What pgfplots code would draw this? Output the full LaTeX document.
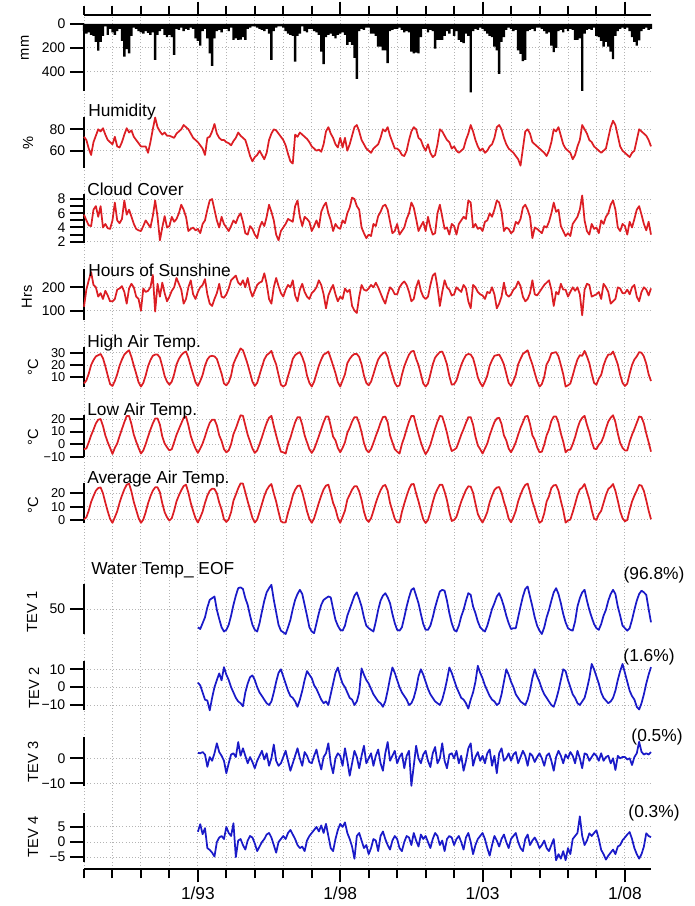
\documentclass[border=0pt]{standalone}
\usepackage{fontspec}
\setmainfont{Liberation Sans}
\usepackage{pgfplots}
\usepackage{pgfplotstable}
\pgfplotsset{compat=1.18}

\definecolor{lred}{RGB}{220,30,36}
\definecolor{lblue}{RGB}{26,26,200}
\definecolor{gridc}{RGB}{180,180,180}
\newcommand\tkf{\fontsize{10.5}{11}\selectfont}
\newcommand\tks{\fontsize{9.6}{10}\selectfont}
\newcommand\ttf{\fontsize{13}{14}\selectfont}
\newcommand\ylf{\fontsize{11}{12}\selectfont}

% monthly series, Jan 1989 - Dec 2008 (one line per year)
\pgfplotstableread[header=false,row sep=\\]{
60\\ 80\\ 70\\ 90\\ 100\\ 150\\ 222\\ 150\\ 100\\ 20\\ 90\\ 40\\
70\\ 90\\ 60\\ 40\\ 140\\ 272\\ 210\\ 245\\ 100\\ 30\\ 40\\ 60\\
70\\ 80\\ 60\\ 75\\ 90\\ 70\\ 300\\ 90\\ 60\\ 40\\ 90\\ 110\\
90\\ 110\\ 258\\ 40\\ 50\\ 30\\ 60\\ 40\\ 50\\ 30\\ 40\\ 120\\
140\\ 180\\ 60\\ 40\\ 120\\ 245\\ 350\\ 120\\ 60\\ 50\\ 70\\ 40\\
40\\ 60\\ 30\\ 133\\ 120\\ 133\\ 130\\ 110\\ 133\\ 40\\ 30\\ 20\\
20\\ 30\\ 40\\ 50\\ 60\\ 40\\ 80\\ 300\\ 60\\ 30\\ 20\\ 20\\
30\\ 60\\ 80\\ 90\\ 100\\ 314\\ 100\\ 80\\ 20\\ 60\\ 70\\ 40\\
40\\ 60\\ 70\\ 90\\ 230\\ 336\\ 110\\ 90\\ 80\\ 100\\ 120\\ 90\\
80\\ 70\\ 90\\ 175\\ 150\\ 175\\ 283\\ 458\\ 60\\ 40\\ 50\\ 30\\
30\\ 80\\ 80\\ 100\\ 190\\ 190\\ 220\\ 220\\ 328\\ 60\\ 50\\ 40\\
40\\ 30\\ 50\\ 70\\ 60\\ 70\\ 230\\ 245\\ 240\\ 245\\ 110\\ 40\\
40\\ 70\\ 50\\ 60\\ 205\\ 133\\ 133\\ 133\\ 100\\ 60\\ 80\\ 40\\
100\\ 60\\ 133\\ 150\\ 160\\ 80\\ 100\\ 572\\ 60\\ 40\\ 50\\ 30\\
40\\ 60\\ 80\\ 100\\ 110\\ 190\\ 220\\ 417\\ 150\\ 110\\ 50\\ 30\\
40\\ 60\\ 50\\ 220\\ 250\\ 310\\ 300\\ 60\\ 50\\ 40\\ 60\\ 30\\
30\\ 40\\ 60\\ 80\\ 70\\ 180\\ 235\\ 200\\ 60\\ 50\\ 70\\ 40\\
60\\ 40\\ 50\\ 133\\ 133\\ 120\\ 558\\ 80\\ 50\\ 40\\ 50\\ 30\\
100\\ 110\\ 140\\ 190\\ 150\\ 190\\ 230\\ 293\\ 100\\ 60\\ 40\\ 30\\
40\\ 30\\ 60\\ 110\\ 150\\ 181\\ 137\\ 60\\ 40\\ 30\\ 50\\ 40\\
}\tabRain

\pgfplotstableread[header=false,row sep=\\]{
73\\ 70\\ 62\\ 56\\ 68\\ 74\\ 80\\ 78\\ 81\\ 75\\ 70\\ 68\\
66\\ 73\\ 64\\ 63\\ 68\\ 75\\ 81\\ 77\\ 79\\ 73\\ 70\\ 67\\
64\\ 64\\ 64\\ 58\\ 68\\ 80\\ 91\\ 82\\ 78\\ 75\\ 77\\ 74\\
74\\ 73\\ 72\\ 76\\ 78\\ 80\\ 84\\ 82\\ 80\\ 76\\ 72\\ 70\\
68\\ 65\\ 62\\ 56\\ 72\\ 73\\ 78\\ 85\\ 76\\ 72\\ 70\\ 70\\
68\\ 67\\ 65\\ 69\\ 72\\ 77\\ 74\\ 72\\ 70\\ 63\\ 55\\ 50\\
54\\ 56\\ 60\\ 56\\ 52\\ 58\\ 70\\ 76\\ 80\\ 79\\ 76\\ 73\\
70\\ 65\\ 57\\ 50\\ 48\\ 75\\ 73\\ 77\\ 75\\ 73\\ 71\\ 68\\
64\\ 62\\ 60\\ 61\\ 59\\ 66\\ 78\\ 82\\ 76\\ 72\\ 66\\ 63\\
72\\ 63\\ 72\\ 60\\ 66\\ 74\\ 82\\ 84\\ 78\\ 70\\ 66\\ 62\\
60\\ 58\\ 62\\ 64\\ 66\\ 72\\ 80\\ 78\\ 82\\ 74\\ 68\\ 62\\
62\\ 60\\ 56\\ 55\\ 60\\ 70\\ 78\\ 82\\ 80\\ 72\\ 70\\ 64\\
60\\ 66\\ 58\\ 54\\ 56\\ 66\\ 80\\ 78\\ 74\\ 70\\ 68\\ 62\\
64\\ 60\\ 58\\ 60\\ 62\\ 70\\ 76\\ 84\\ 78\\ 70\\ 64\\ 60\\
62\\ 58\\ 60\\ 64\\ 66\\ 72\\ 82\\ 84\\ 80\\ 72\\ 66\\ 62\\
60\\ 58\\ 55\\ 52\\ 46\\ 62\\ 78\\ 80\\ 76\\ 68\\ 66\\ 64\\
62\\ 60\\ 58\\ 55\\ 60\\ 68\\ 80\\ 78\\ 82\\ 74\\ 66\\ 62\\
60\\ 58\\ 52\\ 56\\ 64\\ 70\\ 84\\ 80\\ 76\\ 70\\ 68\\ 64\\
62\\ 60\\ 58\\ 60\\ 62\\ 72\\ 82\\ 88\\ 84\\ 74\\ 64\\ 60\\
58\\ 56\\ 54\\ 58\\ 60\\ 70\\ 80\\ 78\\ 76\\ 74\\ 70\\ 64\\
}\tabHum

\pgfplotstableread[header=false,row sep=\\]{
5.8\\ 5.0\\ 4.3\\ 4.2\\ 6.5\\ 7.0\\ 5.5\\ 7.0\\ 4.0\\ 4.5\\ 3.9\\ 3.8\\
5.0\\ 7.5\\ 5.0\\ 4.6\\ 5.2\\ 7.8\\ 5.8\\ 6.5\\ 5.5\\ 4.5\\ 3.8\\ 3.6\\
3.5\\ 4.2\\ 5.0\\ 4.5\\ 4.0\\ 5.6\\ 7.8\\ 5.5\\ 2.2\\ 4.0\\ 5.6\\ 4.0\\
4.2\\ 5.5\\ 4.8\\ 5.2\\ 6.0\\ 7.2\\ 6.5\\ 5.5\\ 3.5\\ 3.8\\ 4.0\\ 3.6\\
3.8\\ 3.2\\ 4.5\\ 5.0\\ 6.5\\ 7.8\\ 8.0\\ 6.5\\ 5.0\\ 4.0\\ 5.5\\ 4.5\\
4.0\\ 3.5\\ 4.2\\ 5.0\\ 4.6\\ 5.5\\ 6.0\\ 4.8\\ 3.2\\ 3.0\\ 4.2\\ 3.8\\
3.0\\ 2.5\\ 4.0\\ 4.8\\ 4.2\\ 5.5\\ 7.2\\ 6.2\\ 5.0\\ 3.0\\ 2.2\\ 3.5\\
4.0\\ 4.5\\ 5.2\\ 5.0\\ 4.8\\ 7.0\\ 7.8\\ 5.5\\ 4.2\\ 5.5\\ 5.2\\ 4.8\\
3.5\\ 4.2\\ 5.0\\ 4.0\\ 6.2\\ 7.0\\ 7.5\\ 6.0\\ 5.0\\ 3.5\\ 4.5\\ 4.0\\
3.8\\ 5.0\\ 4.6\\ 6.0\\ 6.8\\ 8.2\\ 8.0\\ 7.0\\ 6.5\\ 4.0\\ 3.2\\ 2.5\\
3.0\\ 2.8\\ 4.5\\ 4.2\\ 5.6\\ 6.2\\ 7.0\\ 7.2\\ 6.5\\ 4.8\\ 3.2\\ 3.5\\
4.5\\ 3.0\\ 3.5\\ 4.0\\ 5.2\\ 6.0\\ 7.5\\ 6.8\\ 5.2\\ 3.5\\ 4.2\\ 4.8\\
3.5\\ 5.5\\ 4.0\\ 3.0\\ 3.2\\ 6.0\\ 7.2\\ 5.5\\ 3.8\\ 4.0\\ 3.0\\ 4.5\\
4.2\\ 3.0\\ 4.5\\ 5.0\\ 5.5\\ 5.2\\ 7.8\\ 7.5\\ 4.0\\ 4.5\\ 3.8\\ 4.0\\
3.5\\ 4.8\\ 5.0\\ 6.0\\ 5.5\\ 6.5\\ 7.8\\ 7.5\\ 6.2\\ 3.5\\ 4.0\\ 3.8\\
3.2\\ 3.5\\ 4.8\\ 4.5\\ 5.2\\ 6.8\\ 7.2\\ 6.5\\ 5.5\\ 2.5\\ 4.0\\ 3.8\\
3.5\\ 3.2\\ 4.2\\ 4.0\\ 4.8\\ 6.0\\ 7.5\\ 6.2\\ 6.5\\ 4.2\\ 3.5\\ 2.8\\
3.2\\ 2.8\\ 4.5\\ 5.0\\ 5.5\\ 6.5\\ 8.5\\ 5.0\\ 3.5\\ 3.0\\ 4.5\\ 3.8\\
4.0\\ 3.2\\ 5.0\\ 4.5\\ 5.5\\ 6.0\\ 7.2\\ 7.8\\ 6.5\\ 4.0\\ 3.5\\ 4.5\\
4.2\\ 3.0\\ 4.8\\ 4.0\\ 5.2\\ 6.5\\ 7.0\\ 5.8\\ 4.5\\ 3.6\\ 4.8\\ 3.0\\
}\tabCloud

\pgfplotstableread[header=false,row sep=\\]{
117\\ 190\\ 230\\ 265\\ 210\\ 200\\ 160\\ 175\\ 150\\ 185\\ 165\\ 140\\
140\\ 150\\ 190\\ 195\\ 205\\ 180\\ 130\\ 195\\ 215\\ 200\\ 160\\ 150\\
100\\ 195\\ 180\\ 185\\ 200\\ 253\\ 96\\ 215\\ 160\\ 220\\ 175\\ 140\\
160\\ 185\\ 200\\ 240\\ 215\\ 190\\ 130\\ 150\\ 200\\ 230\\ 170\\ 150\\
180\\ 200\\ 210\\ 235\\ 170\\ 130\\ 120\\ 150\\ 175\\ 215\\ 160\\ 155\\
170\\ 195\\ 230\\ 240\\ 250\\ 220\\ 210\\ 230\\ 200\\ 240\\ 190\\ 160\\
185\\ 210\\ 220\\ 225\\ 260\\ 215\\ 150\\ 130\\ 200\\ 240\\ 205\\ 175\\
160\\ 190\\ 210\\ 200\\ 230\\ 165\\ 140\\ 190\\ 215\\ 180\\ 160\\ 150\\
175\\ 185\\ 200\\ 230\\ 210\\ 170\\ 110\\ 165\\ 190\\ 210\\ 170\\ 140\\
160\\ 150\\ 195\\ 180\\ 190\\ 120\\ 100\\ 90\\ 160\\ 210\\ 190\\ 185\\
195\\ 210\\ 200\\ 220\\ 200\\ 175\\ 150\\ 130\\ 170\\ 200\\ 190\\ 170\\
170\\ 200\\ 215\\ 225\\ 210\\ 180\\ 140\\ 150\\ 200\\ 230\\ 185\\ 160\\
150\\ 160\\ 210\\ 250\\ 260\\ 200\\ 120\\ 180\\ 230\\ 200\\ 190\\ 165\\
170\\ 200\\ 190\\ 180\\ 210\\ 195\\ 140\\ 110\\ 210\\ 200\\ 180\\ 170\\
165\\ 150\\ 180\\ 175\\ 200\\ 170\\ 110\\ 130\\ 160\\ 220\\ 170\\ 160\\
170\\ 190\\ 200\\ 225\\ 205\\ 160\\ 140\\ 150\\ 175\\ 230\\ 170\\ 165\\
180\\ 195\\ 210\\ 220\\ 230\\ 190\\ 120\\ 180\\ 170\\ 215\\ 190\\ 190\\
160\\ 180\\ 200\\ 185\\ 200\\ 170\\ 80\\ 190\\ 215\\ 210\\ 160\\ 165\\
170\\ 180\\ 150\\ 215\\ 200\\ 180\\ 130\\ 140\\ 150\\ 200\\ 195\\ 175\\
175\\ 190\\ 170\\ 200\\ 210\\ 160\\ 140\\ 180\\ 200\\ 190\\ 165\\ 195\\
}\tabSun

\pgfplotstableread[header=false,row sep=\\]{
5.0\\ 7.5\\ 13.0\\ 20.0\\ 24.0\\ 27.0\\ 28.0\\ 29.0\\ 25.5\\ 19.0\\ 11.5\\ 4.5\\
3.0\\ 7.0\\ 12.5\\ 19.5\\ 24.5\\ 28.5\\ 30.5\\ 32.0\\ 26.5\\ 19.5\\ 13.0\\ 6.0\\
2.5\\ 5.5\\ 11.5\\ 19.0\\ 24.0\\ 27.5\\ 28.5\\ 28.5\\ 26.0\\ 19.0\\ 11.0\\ 6.5\\
4.0\\ 6.5\\ 12.5\\ 20.5\\ 25.0\\ 28.0\\ 30.0\\ 31.0\\ 26.0\\ 19.0\\ 12.5\\ 6.0\\
3.0\\ 7.0\\ 12.0\\ 19.5\\ 24.5\\ 27.0\\ 27.5\\ 27.0\\ 25.0\\ 19.0\\ 13.0\\ 5.0\\
3.5\\ 6.0\\ 11.5\\ 21.0\\ 25.5\\ 29.5\\ 33.5\\ 32.0\\ 26.5\\ 20.5\\ 13.5\\ 6.5\\
3.0\\ 5.5\\ 12.0\\ 18.5\\ 24.5\\ 28.0\\ 29.5\\ 31.5\\ 25.5\\ 20.5\\ 12.0\\ 4.0\\
2.5\\ 4.0\\ 11.0\\ 17.5\\ 25.0\\ 28.0\\ 29.5\\ 30.5\\ 26.5\\ 21.0\\ 11.5\\ 5.5\\
2.5\\ 6.5\\ 13.0\\ 19.5\\ 24.5\\ 28.5\\ 29.5\\ 31.0\\ 25.5\\ 19.5\\ 13.5\\ 6.0\\
2.5\\ 7.5\\ 12.5\\ 21.5\\ 25.0\\ 27.5\\ 29.0\\ 29.0\\ 26.5\\ 20.5\\ 11.5\\ 5.5\\
3.5\\ 6.5\\ 12.5\\ 19.0\\ 24.5\\ 27.5\\ 29.5\\ 30.5\\ 26.5\\ 18.5\\ 12.0\\ 5.5\\
2.5\\ 3.5\\ 12.0\\ 19.0\\ 24.0\\ 28.5\\ 31.0\\ 31.5\\ 25.0\\ 20.0\\ 12.5\\ 5.0\\
2.5\\ 5.0\\ 12.5\\ 20.5\\ 26.0\\ 28.5\\ 30.5\\ 31.0\\ 26.5\\ 20.5\\ 11.0\\ 4.0\\
4.5\\ 7.5\\ 14.0\\ 20.0\\ 24.5\\ 28.0\\ 29.0\\ 28.5\\ 25.5\\ 18.5\\ 10.0\\ 5.5\\
2.5\\ 6.5\\ 11.5\\ 19.5\\ 24.0\\ 27.5\\ 28.0\\ 28.5\\ 25.0\\ 20.5\\ 13.0\\ 5.5\\
3.0\\ 7.0\\ 12.0\\ 20.5\\ 25.0\\ 29.0\\ 30.5\\ 32.0\\ 26.0\\ 20.5\\ 13.5\\ 7.0\\
2.5\\ 4.5\\ 10.5\\ 20.5\\ 24.0\\ 29.5\\ 30.0\\ 30.5\\ 27.0\\ 20.0\\ 12.5\\ 2.5\\
3.5\\ 5.0\\ 11.5\\ 18.5\\ 24.5\\ 28.0\\ 27.5\\ 31.5\\ 27.0\\ 21.5\\ 13.0\\ 5.5\\
4.0\\ 9.0\\ 12.0\\ 19.5\\ 25.0\\ 28.5\\ 28.5\\ 31.0\\ 26.0\\ 20.5\\ 12.0\\ 5.5\\
3.0\\ 5.0\\ 13.0\\ 20.0\\ 24.5\\ 27.0\\ 30.5\\ 30.0\\ 27.0\\ 21.0\\ 12.5\\ 7.0\\
}\tabHigh

\pgfplotstableread[header=false,row sep=\\]{
-4.0\\ -3.5\\ 1.5\\ 7.0\\ 11.5\\ 16.5\\ 19.5\\ 20.0\\ 14.5\\ 7.0\\ 1.5\\ -3.0\\
-7.8\\ -3.0\\ 0.5\\ 6.5\\ 12.0\\ 17.5\\ 22.5\\ 22.5\\ 16.0\\ 7.5\\ 2.0\\ -3.0\\
-7.5\\ -5.0\\ 0.0\\ 6.0\\ 11.5\\ 16.5\\ 20.5\\ 20.5\\ 15.5\\ 6.0\\ 0.5\\ -2.5\\
-5.0\\ -4.0\\ 1.5\\ 7.5\\ 12.0\\ 16.5\\ 21.0\\ 22.0\\ 15.0\\ 6.5\\ 1.0\\ -3.5\\
-7.0\\ -3.5\\ 0.5\\ 6.0\\ 12.0\\ 17.0\\ 19.5\\ 19.5\\ 15.0\\ 7.0\\ 2.5\\ -4.0\\
-6.5\\ -5.0\\ 0.0\\ 8.0\\ 12.5\\ 18.0\\ 23.0\\ 22.5\\ 15.0\\ 7.5\\ 2.0\\ -3.5\\
-7.0\\ -5.0\\ 0.0\\ 5.5\\ 11.5\\ 17.0\\ 21.0\\ 22.5\\ 14.5\\ 7.0\\ 0.0\\ -6.0\\
-6.5\\ -7.5\\ 0.0\\ 5.0\\ 11.5\\ 17.5\\ 21.5\\ 21.5\\ 15.5\\ 7.0\\ 1.5\\ -4.0\\
-7.0\\ -4.0\\ 1.0\\ 6.5\\ 12.0\\ 17.5\\ 22.0\\ 22.0\\ 14.5\\ 6.0\\ 3.0\\ -3.0\\
-6.5\\ -3.0\\ 1.5\\ 9.0\\ 13.0\\ 18.0\\ 21.5\\ 21.5\\ 16.5\\ 9.5\\ 1.0\\ -4.5\\
-6.5\\ -4.0\\ 1.0\\ 6.5\\ 11.5\\ 17.0\\ 21.5\\ 22.0\\ 17.5\\ 7.0\\ 1.5\\ -4.0\\
-6.0\\ -7.5\\ 0.0\\ 5.5\\ 12.0\\ 18.0\\ 22.5\\ 22.5\\ 15.0\\ 8.0\\ 1.5\\ -4.0\\
-8.0\\ -5.0\\ -0.5\\ 6.0\\ 12.5\\ 18.0\\ 22.5\\ 22.0\\ 16.0\\ 9.0\\ 0.5\\ -5.5\\
-4.5\\ -3.0\\ 2.0\\ 7.5\\ 12.0\\ 17.0\\ 21.5\\ 21.5\\ 15.5\\ 6.0\\ -1.0\\ -4.0\\
-7.5\\ -3.5\\ 0.5\\ 7.0\\ 12.5\\ 17.5\\ 20.5\\ 21.0\\ 16.0\\ 7.0\\ 3.0\\ -3.5\\
-6.5\\ -3.0\\ 1.5\\ 7.5\\ 13.0\\ 17.5\\ 22.0\\ 22.5\\ 16.0\\ 7.0\\ 3.5\\ -2.5\\
-6.5\\ -6.0\\ -0.5\\ 7.0\\ 11.5\\ 18.5\\ 22.0\\ 22.0\\ 17.0\\ 8.5\\ 2.0\\ -6.5\\
-4.5\\ -4.5\\ 0.0\\ 5.5\\ 12.5\\ 18.0\\ 21.0\\ 22.5\\ 15.5\\ 9.5\\ 2.0\\ -3.5\\
-4.0\\ -0.5\\ 1.5\\ 6.0\\ 12.5\\ 18.0\\ 21.0\\ 23.0\\ 17.5\\ 8.5\\ 1.0\\ -3.0\\
-5.0\\ -5.0\\ 2.0\\ 7.5\\ 12.0\\ 17.0\\ 22.0\\ 21.5\\ 16.5\\ 8.5\\ 1.5\\ -6.0\\
}\tabLow

\pgfplotstableread[header=false,row sep=\\]{
0.5\\ 2.0\\ 7.0\\ 13.5\\ 18.0\\ 22.0\\ 24.0\\ 24.5\\ 20.0\\ 13.0\\ 6.5\\ 0.8\\
-2.2\\ 2.0\\ 6.5\\ 13.0\\ 18.3\\ 23.0\\ 26.5\\ 27.3\\ 21.3\\ 13.5\\ 7.5\\ 1.5\\
-2.2\\ 0.3\\ 5.8\\ 12.5\\ 17.8\\ 22.0\\ 24.5\\ 24.5\\ 20.8\\ 12.5\\ 5.8\\ 2.0\\
-0.5\\ 1.3\\ 7.0\\ 14.0\\ 18.5\\ 22.3\\ 25.5\\ 26.5\\ 20.5\\ 12.8\\ 6.8\\ 1.3\\
-2.0\\ 1.8\\ 6.3\\ 12.8\\ 18.3\\ 22.0\\ 23.5\\ 23.3\\ 20.0\\ 13.0\\ 7.8\\ 0.5\\
-1.5\\ 0.5\\ 5.8\\ 14.5\\ 19.0\\ 23.8\\ 27.5\\ 27.3\\ 20.8\\ 14.0\\ 7.8\\ 1.5\\
-2.0\\ 0.3\\ 6.0\\ 12.0\\ 18.0\\ 22.5\\ 25.3\\ 27.0\\ 20.0\\ 13.8\\ 6.0\\ -1.0\\
-2.0\\ -1.8\\ 5.5\\ 11.3\\ 18.3\\ 22.8\\ 25.5\\ 26.0\\ 21.0\\ 14.0\\ 6.5\\ 0.8\\
-2.2\\ 1.3\\ 7.0\\ 13.0\\ 18.3\\ 23.0\\ 25.8\\ 26.5\\ 20.0\\ 12.8\\ 8.3\\ 1.5\\
-2.2\\ 2.3\\ 7.0\\ 15.3\\ 19.0\\ 22.8\\ 25.3\\ 25.3\\ 21.5\\ 15.0\\ 6.3\\ 0.5\\
-1.5\\ 1.3\\ 6.8\\ 12.8\\ 18.0\\ 22.3\\ 25.5\\ 26.3\\ 22.0\\ 12.8\\ 6.8\\ 0.8\\
-1.8\\ -2.0\\ 6.0\\ 12.3\\ 18.0\\ 23.3\\ 26.8\\ 27.0\\ 20.0\\ 14.0\\ 7.0\\ 0.5\\
-2.3\\ 0.0\\ 6.0\\ 13.3\\ 19.3\\ 23.3\\ 26.5\\ 26.5\\ 21.3\\ 14.8\\ 5.8\\ -0.8\\
0.0\\ 2.3\\ 8.0\\ 13.8\\ 18.3\\ 22.5\\ 25.3\\ 25.0\\ 20.5\\ 12.3\\ 4.5\\ 0.8\\
-2.0\\ 1.5\\ 6.0\\ 13.3\\ 18.3\\ 22.5\\ 24.3\\ 24.8\\ 20.5\\ 13.8\\ 8.0\\ 1.0\\
-1.8\\ 2.0\\ 6.8\\ 14.0\\ 19.0\\ 23.3\\ 26.3\\ 27.3\\ 21.0\\ 13.8\\ 8.5\\ 2.3\\
-2.2\\ -0.8\\ 5.0\\ 13.8\\ 17.8\\ 24.0\\ 26.0\\ 26.3\\ 22.0\\ 14.3\\ 7.3\\ -2.0\\
-0.5\\ 0.3\\ 5.8\\ 12.0\\ 18.5\\ 23.0\\ 24.3\\ 27.0\\ 21.3\\ 15.5\\ 7.5\\ 1.0\\
0.0\\ 4.3\\ 6.8\\ 12.8\\ 18.8\\ 23.3\\ 24.8\\ 27.0\\ 21.8\\ 14.5\\ 6.5\\ 1.3\\
-1.0\\ 0.0\\ 7.5\\ 13.8\\ 18.3\\ 22.0\\ 26.3\\ 25.8\\ 21.8\\ 14.8\\ 7.0\\ 0.5\\
}\tabAvg

% EOF series, Jan 1993 - Dec 2008
\pgfplotstableread[header=false,row sep=\\]{
28\\ 26\\ 33\\ 40\\ 52\\ 61\\ 63\\ 65\\ 49\\ 38\\ 28\\ 23\\
25\\ 31\\ 42\\ 55\\ 66\\ 75\\ 76\\ 74\\ 63\\ 55\\ 42\\ 31\\
25\\ 23\\ 33\\ 47\\ 60\\ 70\\ 75\\ 79\\ 61\\ 46\\ 31\\ 24\\
22\\ 20\\ 28\\ 37\\ 50\\ 61\\ 68\\ 73\\ 68\\ 55\\ 42\\ 28\\
23\\ 21\\ 33\\ 45\\ 55\\ 61\\ 63\\ 65\\ 64\\ 50\\ 37\\ 30\\
25\\ 24\\ 30\\ 42\\ 50\\ 58\\ 66\\ 70\\ 62\\ 53\\ 40\\ 30\\
27\\ 25\\ 23\\ 35\\ 49\\ 60\\ 66\\ 69\\ 64\\ 57\\ 44\\ 33\\
25\\ 24\\ 28\\ 40\\ 53\\ 64\\ 73\\ 75\\ 66\\ 57\\ 44\\ 32\\
25\\ 25\\ 30\\ 40\\ 52\\ 62\\ 71\\ 73\\ 72\\ 60\\ 45\\ 33\\
25\\ 23\\ 30\\ 41\\ 49\\ 60\\ 69\\ 67\\ 53\\ 45\\ 35\\ 28\\
25\\ 23\\ 30\\ 40\\ 50\\ 57\\ 65\\ 69\\ 62\\ 53\\ 42\\ 33\\
26\\ 27\\ 27\\ 40\\ 53\\ 65\\ 74\\ 77\\ 65\\ 53\\ 40\\ 30\\
24\\ 20\\ 28\\ 40\\ 49\\ 60\\ 70\\ 75\\ 68\\ 57\\ 44\\ 34\\
27\\ 25\\ 24\\ 35\\ 53\\ 63\\ 70\\ 73\\ 60\\ 49\\ 40\\ 32\\
27\\ 25\\ 32\\ 42\\ 49\\ 60\\ 68\\ 73\\ 68\\ 53\\ 42\\ 30\\
27\\ 24\\ 27\\ 37\\ 49\\ 60\\ 68\\ 72\\ 70\\ 67\\ 50\\ 34\\
}\tabTevA

\pgfplotstableread[header=false,row sep=\\]{
2.5\\ 1.0\\ -3.0\\ -7.0\\ -7.5\\ -13.0\\ -6.0\\ 0.0\\ 4.0\\ 7.7\\ 3.8\\ 11.2\\
7.0\\ 4.0\\ 0.0\\ -3.0\\ -6.0\\ -8.0\\ -9.0\\ -10.7\\ -3.0\\ 2.0\\ 5.6\\ 6.6\\
4.0\\ 0.0\\ -3.0\\ -5.0\\ -7.0\\ -9.0\\ -10.0\\ -8.0\\ -3.0\\ 3.0\\ 8.0\\ 10.0\\
6.0\\ 2.0\\ -2.0\\ -5.0\\ -6.0\\ -8.0\\ -11.0\\ -7.0\\ -2.0\\ 4.0\\ 9.0\\ 7.0\\
5.0\\ 1.0\\ -1.0\\ -4.0\\ -7.0\\ -9.0\\ -8.0\\ -10.0\\ -4.0\\ 2.0\\ 8.0\\ 11.0\\
6.0\\ 2.0\\ 0.0\\ -3.0\\ -6.0\\ -7.0\\ -10.0\\ -8.0\\ -3.0\\ 10.5\\ 7.0\\ 4.0\\
2.0\\ -1.0\\ -4.0\\ -6.0\\ -8.0\\ -9.0\\ -11.0\\ -8.0\\ -2.0\\ 5.0\\ 11.0\\ 8.0\\
4.0\\ 0.0\\ -3.0\\ -5.0\\ -7.0\\ -10.0\\ -9.0\\ -6.0\\ -1.0\\ 6.0\\ 10.0\\ 7.0\\
3.0\\ -1.0\\ -4.0\\ -6.0\\ -8.0\\ -9.0\\ -10.0\\ -7.0\\ -2.0\\ 4.0\\ 11.0\\ 8.0\\
4.0\\ 0.0\\ -3.0\\ -6.0\\ -7.0\\ -9.0\\ -12.0\\ -7.0\\ -3.0\\ 3.0\\ 12.0\\ 8.0\\
5.0\\ 1.0\\ -2.0\\ -5.0\\ -7.0\\ -8.0\\ -10.0\\ -9.0\\ -4.0\\ 3.0\\ 10.0\\ 7.0\\
3.0\\ 0.0\\ -4.0\\ -6.0\\ -8.0\\ -9.0\\ -10.0\\ -7.0\\ -2.0\\ 5.0\\ 10.0\\ 6.0\\
3.0\\ -1.0\\ -4.0\\ -6.0\\ -8.0\\ -10.0\\ -11.0\\ -7.0\\ -2.0\\ 4.0\\ 10.0\\ 9.0\\
4.0\\ 0.0\\ -4.0\\ -6.0\\ -9.0\\ -10.0\\ -8.0\\ -6.0\\ -1.0\\ 5.0\\ 13.0\\ 10.0\\
6.0\\ 2.0\\ -3.0\\ -6.0\\ -7.5\\ -9.0\\ -8.0\\ -6.0\\ -2.0\\ 4.0\\ 9.0\\ 13.0\\
8.0\\ 3.0\\ -2.0\\ -5.0\\ -7.0\\ -11.0\\ -12.5\\ -9.0\\ -4.0\\ 2.0\\ 7.0\\ 11.2\\
}\tabTevB

\pgfplotstableread[header=false,row sep=\\]{
2.2\\ 2.0\\ 2.5\\ 1.5\\ -3.4\\ 0.5\\ -1.0\\ 2.0\\ 6.0\\ 2.5\\ 1.0\\ -1.0\\
-6.0\\ -2.0\\ 1.5\\ 2.0\\ 0.5\\ 6.5\\ 1.0\\ 4.0\\ 1.0\\ -2.0\\ 0.5\\ -1.5\\
-4.0\\ -1.0\\ 1.0\\ 3.0\\ -0.5\\ 2.0\\ -3.0\\ 0.0\\ 5.5\\ -1.0\\ -3.0\\ -2.0\\
0.5\\ 3.0\\ -1.0\\ -5.0\\ -2.0\\ 1.0\\ 4.0\\ 0.0\\ -3.0\\ 2.5\\ 1.0\\ -1.5\\
-2.0\\ 1.0\\ 3.5\\ -1.0\\ -4.5\\ 0.5\\ 2.0\\ 6.0\\ -2.0\\ -6.0\\ 0.0\\ 2.0\\
1.0\\ -3.0\\ 4.0\\ -1.0\\ -7.0\\ -2.0\\ 3.0\\ 0.5\\ -4.0\\ 1.0\\ 5.0\\ -2.0\\
0.0\\ 2.0\\ -3.0\\ 1.0\\ 3.5\\ -2.0\\ -5.0\\ 2.0\\ 6.5\\ -1.0\\ 1.0\\ 3.0\\
-2.0\\ 0.5\\ 2.0\\ -4.0\\ 1.0\\ 3.0\\ -11.0\\ -3.0\\ 5.0\\ 0.0\\ -2.0\\ 1.5\\
3.0\\ -1.0\\ -3.5\\ 2.0\\ 4.5\\ -2.0\\ 0.0\\ 6.0\\ -1.0\\ -4.0\\ 1.5\\ 2.0\\
0.0\\ 3.0\\ -2.0\\ 1.0\\ -5.0\\ -1.0\\ 4.0\\ 6.0\\ -3.0\\ 0.5\\ 2.5\\ -1.0\\
1.0\\ -2.0\\ 2.0\\ 3.5\\ -3.0\\ 1.0\\ -6.0\\ 2.0\\ 4.0\\ -1.0\\ 0.0\\ 2.0\\
-1.0\\ 1.5\\ 2.5\\ -2.0\\ 0.5\\ 3.0\\ 1.0\\ -3.0\\ 2.0\\ 1.0\\ -1.5\\ 0.5\\
2.0\\ 0.0\\ -3.0\\ 1.0\\ 2.0\\ -1.0\\ -5.0\\ 0.5\\ 3.0\\ 1.0\\ -2.0\\ 1.5\\
0.0\\ 2.5\\ 1.0\\ -2.0\\ 3.0\\ 0.0\\ -4.0\\ 2.0\\ 1.5\\ -1.0\\ 0.5\\ 2.0\\
1.0\\ -1.0\\ 2.0\\ -1.0\\ 0.5\\ 1.0\\ -2.0\\ 0.0\\ -4.7\\ 1.0\\ 0.0\\ 0.5\\
0.5\\ -0.5\\ 0.0\\ -2.7\\ 0.5\\ 2.0\\ 6.6\\ 2.6\\ 1.5\\ 2.0\\ 1.5\\ 2.5\\
}\tabTevC

\pgfplotstableread[header=false,row sep=\\]{
3.4\\ 5.9\\ 2.6\\ 4.6\\ -2.0\\ -2.6\\ -3.5\\ -4.8\\ 0.0\\ 1.5\\ 2.0\\ 1.0\\
5.0\\ 3.0\\ 2.0\\ 6.2\\ -5.0\\ 0.5\\ 1.0\\ -1.0\\ -2.5\\ 0.5\\ 2.0\\ 1.5\\
-0.5\\ -3.0\\ -1.5\\ 0.0\\ 1.0\\ 2.5\\ 3.0\\ 1.5\\ -1.0\\ -3.5\\ 0.0\\ 1.0\\
2.0\\ 1.0\\ 3.0\\ 4.0\\ 2.5\\ 1.0\\ -1.0\\ -2.0\\ -1.5\\ -3.0\\ 0.5\\ 2.0\\
3.0\\ 4.0\\ 5.0\\ 3.5\\ 5.5\\ 3.0\\ 6.0\\ 2.0\\ -2.0\\ -3.0\\ 1.0\\ 4.0\\
6.0\\ 5.0\\ 6.5\\ 3.0\\ 1.0\\ -1.5\\ -5.5\\ 2.0\\ 3.0\\ 0.5\\ -2.0\\ -1.0\\
-4.0\\ -2.0\\ 1.0\\ 0.5\\ -3.0\\ 2.0\\ 3.5\\ 1.0\\ -1.0\\ -2.5\\ 0.5\\ 2.0\\
1.0\\ -2.0\\ -3.0\\ 0.0\\ 2.0\\ 1.5\\ -1.0\\ 3.0\\ 0.5\\ -1.5\\ 2.5\\ 1.0\\
2.0\\ 0.0\\ -2.0\\ 1.0\\ 3.0\\ 2.0\\ -1.0\\ 0.5\\ -3.0\\ 1.0\\ 2.0\\ 1.5\\
-1.0\\ 1.0\\ 2.0\\ 0.0\\ -2.5\\ 1.5\\ 3.0\\ 0.0\\ -4.0\\ -1.0\\ 1.0\\ 2.0\\
3.0\\ 1.0\\ -2.0\\ -4.5\\ -1.0\\ 2.0\\ 0.5\\ -1.5\\ 1.0\\ 2.5\\ 0.0\\ -2.0\\
1.0\\ 2.0\\ 3.0\\ 0.0\\ -2.0\\ -3.0\\ 1.0\\ 2.5\\ -1.0\\ 0.5\\ 1.5\\ 0.0\\
-2.0\\ -1.0\\ 0.5\\ -2.0\\ -3.0\\ -1.0\\ 1.0\\ -6.0\\ -4.0\\ -5.5\\ -3.0\\ -6.0\\
-2.0\\ -4.0\\ 1.0\\ 2.0\\ 3.0\\ 8.5\\ 2.0\\ -1.0\\ 0.5\\ 2.9\\ 2.0\\ 3.0\\
3.9\\ 1.0\\ -2.6\\ -4.0\\ -5.8\\ -4.5\\ -3.5\\ -2.5\\ -4.0\\ -1.5\\ -1.0\\ 0.6\\
1.5\\ 2.5\\ 3.3\\ 1.0\\ -2.0\\ -4.0\\ -5.5\\ -4.0\\ -1.5\\ 2.9\\ 2.0\\ 1.6\\
}\tabTevD

\pgfplotsset{
  panel/.style={
    scale only axis, width=425.25pt, xmin=0, xmax=239, anchor=north west,
    axis x line=none, axis y line*=left, xtick=\empty,
    ytick pos=left, tick align=outside,
    major tick length=10.5pt, minor tick length=10.5pt,
    axis line style={line width=1.6pt, black},
    every tick/.style={line width=1.5pt, black},
    ymajorgrids,
    grid style={gridc, line width=0.7pt, dash pattern=on 0.8pt off 1.6pt},
    yticklabel style={font=\tkf},
    /pgf/number format/assume math mode=true,
    clip=false,
  },
  redline/.style={lred, line width=1.3pt, line join=round},
  blueline/.style={lblue, line width=1.3pt, line join=round},
}

\begin{document}
\begin{tikzpicture}
\useasboundingbox (0pt,0pt) rectangle (521.25pt,-679.5pt);

% background frame: yearly grid, top and bottom time axes
\begin{axis}[scale only axis, width=425.25pt, height=640.5pt,
  at={(63pt,-11.25pt)}, anchor=north west,
  xmin=0, xmax=239, ymin=0, ymax=1,
  separate axis lines,
  x axis line style={line width=1.6pt, black},
  y axis line style={draw=none},
  ytick=\empty,
  xtick={48,108,168,228}, xticklabels={1/93,1/98,1/03,1/08},
  minor xtick={0,12,...,228},
  xtick pos=both, xticklabel pos=lower, tick align=outside,
  major tick length=10pt, minor tick length=7pt,
  every tick/.style={line width=1.5pt, black},
  xmajorgrids, xminorgrids,
  grid style={gridc, line width=0.7pt, dash pattern=on 0.8pt off 1.6pt},
  xticklabel style={font=\ttf},
]
\end{axis}

% precipitation
\begin{axis}[panel, at={(63pt,-18pt)}, height=50.25pt,
  ymin=0, ymax=560, y dir=reverse,
  ytick={0,200,400}, yticklabels={0,200,400}]
\addplot[ybar, bar width=1.8pt, fill=black, draw=none]
  table[x expr=\coordindex, y index=0]{\tabRain};
\end{axis}

% humidity
\begin{axis}[panel, at={(63pt,-87.75pt)}, height=38.25pt,
  ymin=43.8, ymax=91.5, ytick={60,80}, yticklabels={60,80}]
\addplot[redline] table[x expr=\coordindex, y index=0]{\tabHum};
\end{axis}

% cloud cover
\begin{axis}[panel, at={(63pt,-145.725pt)}, height=36.75pt,
  ymin=1.78, ymax=8.66, ytick={2,4,6,8}, yticklabels={2,4,6,8},
  minor ytick={3,5,7}]
\addplot[redline] table[x expr=\coordindex, y index=0]{\tabCloud};
\end{axis}

% sunshine
\begin{axis}[panel, at={(63pt,-201.975pt)}, height=38.025pt,
  ymin=60, ymax=277, ytick={100,200}, yticklabels={100,200}]
\addplot[redline] table[x expr=\coordindex, y index=0]{\tabSun};
\end{axis}

% high air temp
\begin{axis}[panel, at={(63pt,-260.475pt)}, height=29.55pt,
  ymin=2.4, ymax=34.4, ytick={10,20,30}, yticklabels={10,20,30},
  yticklabel style={font=\tks}]
\addplot[redline] table[x expr=\coordindex, y index=0]{\tabHigh};
\end{axis}

% low air temp
\begin{axis}[panel, at={(63pt,-311.25pt)}, height=31.275pt,
  ymin=-10, ymax=23.2, ytick={-10,0,10,20}, yticklabels={−10,0,10,20},
  yticklabel style={font=\tks}]
\addplot[redline] table[x expr=\coordindex, y index=0]{\tabLow};
\end{axis}

% average air temp
\begin{axis}[panel, at={(63pt,-362.025pt)}, height=30.225pt,
  ymin=-2.3, ymax=28, ytick={0,10,20}, yticklabels={0,10,20},
  yticklabel style={font=\tks}]
\addplot[redline] table[x expr=\coordindex, y index=0]{\tabAvg};
\end{axis}

% TEV 1
\begin{axis}[panel, at={(63pt,-438pt)}, height=37.5pt,
  ymin=20, ymax=80, ytick={50}, yticklabels={50}]
\addplot[blueline] table[x expr=\coordindex+48, y index=0]{\tabTevA};
\end{axis}

% TEV 2
\begin{axis}[panel, at={(63pt,-495.525pt)}, height=36.975pt,
  ymin=-12.8, ymax=14.8, ytick={-10,0,10}, yticklabels={−10,0,10}]
\addplot[blueline] table[x expr=\coordindex+48, y index=0]{\tabTevB};
\end{axis}

% TEV 3
\begin{axis}[panel, at={(63pt,-552.975pt)}, height=36.525pt,
  ymin=-11.1, ymax=8.4, ytick={-10,0}, yticklabels={−10,0}]
\addplot[blueline] table[x expr=\coordindex+48, y index=0]{\tabTevC};
\end{axis}

% TEV 4
\begin{axis}[panel, at={(63pt,-609.975pt)}, height=36.525pt,
  ymin=-6.6, ymax=9.5, ytick={-5,0,5}, yticklabels={−5,0,5}]
\addplot[blueline] table[x expr=\coordindex+48, y index=0]{\tabTevD};
\end{axis}

\begin{scope}[x=0.75pt, y=-0.75pt]
  % panel titles
  \node[anchor=west, inner sep=0pt, font=\ttf] at (88,112) {Humidity};
  \node[anchor=west, inner sep=0pt, font=\ttf] at (87,189) {Cloud Cover};
  \node[anchor=west, inner sep=0pt, font=\ttf] at (88,270) {Hours of Sunshine};
  \node[anchor=west, inner sep=0pt, font=\ttf] at (87,343) {High Air Temp.};
  \node[anchor=west, inner sep=0pt, font=\ttf] at (87,411) {Low Air Temp.};
  \node[anchor=west, inner sep=0pt, font=\ttf] at (87,479) {Average Air Temp.};
  \node[anchor=west, inner sep=0pt, font=\ttf] at (91,570) {Water Temp\_ EOF};
  % explained variance
  \node[font=\ttf] at (654,575) {(96.8\%)};
  \node[font=\ttf] at (649,657) {(1.6\%)};
  \node[font=\ttf] at (657,737) {(0.5\%)};
  \node[font=\ttf] at (654,813) {(0.3\%)};
  % y labels
  \node[rotate=90, font=\ylf] at (25,48) {mm};
  \node[rotate=90, font=\ylf] at (28,143) {\%};
  \node[rotate=90, font=\ylf] at (27,297) {Hrs};
  \node[rotate=90, font=\ylf] at (33,367) {°C};
  \node[rotate=90, font=\ylf] at (33,437) {°C};
  \node[rotate=90, font=\ylf] at (33,505) {°C};
  \node[rotate=90, font=\ylf] at (32,612) {TEV 1};
  \node[rotate=90, font=\ylf] at (34,688) {TEV 2};
  \node[rotate=90, font=\ylf] at (33,762) {TEV 3};
  \node[rotate=90, font=\ylf] at (33,837) {TEV 4};
\end{scope}
\end{tikzpicture}
\end{document}
